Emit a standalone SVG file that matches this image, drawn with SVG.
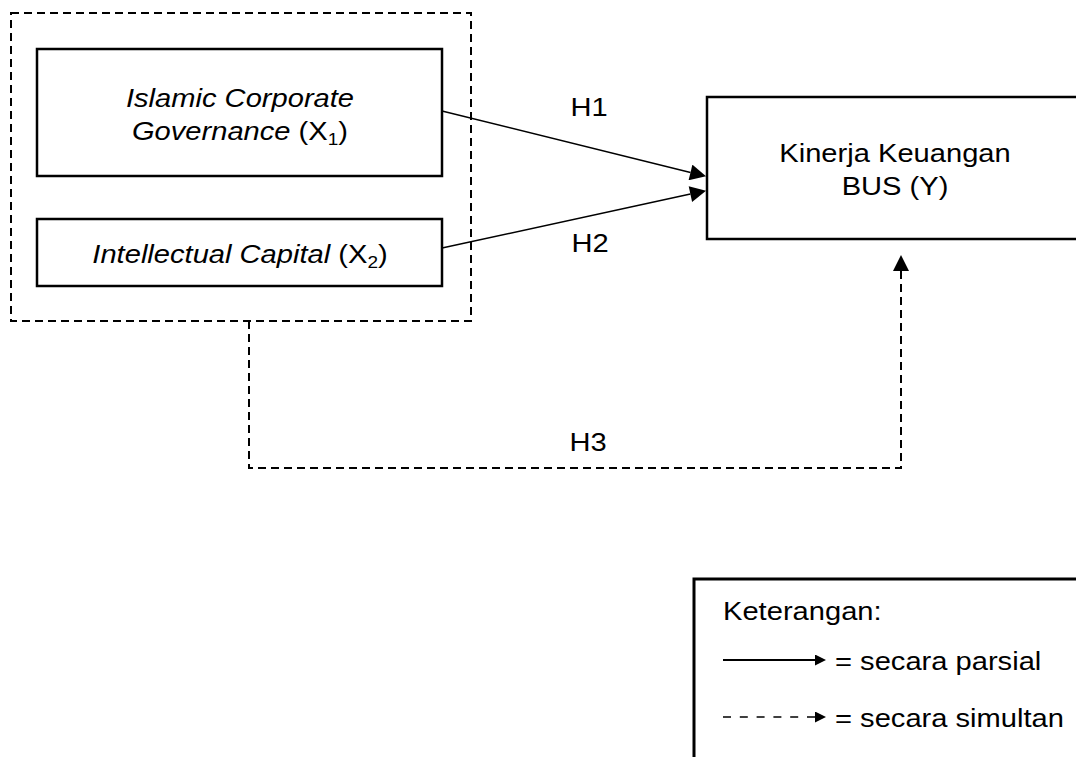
<svg xmlns="http://www.w3.org/2000/svg" width="1076" height="757" viewBox="0 0 1076 757">
<style>
  .t { font-family: "Liberation Sans", Arial, sans-serif; font-size: 26px; fill: #000; }
  .m { text-anchor: middle; }
  .i { font-style: italic; }
  .box { fill: #fff; stroke: #000; stroke-width: 2.5; }
  .dash { fill: none; stroke: #000; stroke-width: 2; stroke-dasharray: 8 5; }
  .solid { fill: none; stroke: #000; stroke-width: 1.5; }
</style>
<defs>
  <marker id="arr" viewBox="0 0 10 10" refX="0" refY="5" markerUnits="userSpaceOnUse" markerWidth="17" markerHeight="16" orient="auto">
    <path d="M0,0 L10,5 L0,10 z" fill="#000"/>
  </marker>
  <marker id="arrS" viewBox="0 0 10 10" refX="0" refY="5" markerUnits="userSpaceOnUse" markerWidth="12" markerHeight="11" orient="auto">
    <path d="M0,0 L10,5 L0,10 z" fill="#000"/>
  </marker>
</defs>
<rect x="0" y="0" width="1076" height="757" fill="#fff"/>

<g id="group-x">
  <rect x="11" y="13" width="460" height="308" class="dash"/>
</g>

<g id="node-x1">
  <rect x="37" y="49" width="405" height="127" class="box"/>
  <g transform="translate(240 107) scale(1.12 1)">
    <text class="t m i" x="0" y="0">Islamic Corporate</text>
  </g>
  <g transform="translate(240 140) scale(1.12 1)">
    <text class="t m" x="0" y="0"><tspan class="i">Governance</tspan> (X<tspan font-size="17" dy="5">1</tspan><tspan dy="-5">)</tspan></text>
  </g>
</g>

<g id="node-x2">
  <rect x="37" y="219" width="405" height="67" class="box"/>
  <g transform="translate(240 263) scale(1.12 1)">
    <text class="t m" x="0" y="0"><tspan class="i">Intellectual Capital</tspan> (X<tspan font-size="17" dy="5">2</tspan><tspan dy="-5">)</tspan></text>
  </g>
</g>

<g id="node-y">
  <rect x="707" y="97" width="400" height="142" class="box"/>
  <g transform="translate(895 162) scale(1.12 1)">
    <text class="t m" x="0" y="0">Kinerja Keuangan</text>
  </g>
  <g transform="translate(895 195) scale(1.12 1)">
    <text class="t m" x="0" y="0">BUS (Y)</text>
  </g>
</g>

<g id="connectors">
  <line x1="442" y1="111" x2="690.5" y2="172.4" class="solid" marker-end="url(#arr)"/>
  <line x1="442" y1="248" x2="690.4" y2="194.1" class="solid" marker-end="url(#arr)"/>
  <path d="M249,321 V468 H901 V271" class="dash" marker-end="url(#arr)"/>
  <g transform="translate(589 116) scale(1.12 1)"><text class="t m" x="0" y="0">H1</text></g>
  <g transform="translate(590 252) scale(1.12 1)"><text class="t m" x="0" y="0">H2</text></g>
  <g transform="translate(588 451) scale(1.12 1)"><text class="t m" x="0" y="0">H3</text></g>
</g>

<g id="legend">
  <rect x="694" y="579" width="420" height="220" fill="#fff" stroke="#000" stroke-width="3"/>
  <g transform="translate(723 620) scale(1.12 1)"><text class="t" x="0" y="0">Keterangan:</text></g>
  <line x1="723" y1="660" x2="815" y2="660" stroke="#000" stroke-width="2" marker-end="url(#arrS)"/>
  <g transform="translate(835 670) scale(1.12 1)"><text class="t" x="0" y="0">= secara parsial</text></g>
  <line x1="723" y1="717" x2="815" y2="717" stroke="#000" stroke-width="1.5" stroke-dasharray="8 8.8" marker-end="url(#arrS)"/>
  <g transform="translate(835 727) scale(1.12 1)"><text class="t" x="0" y="0">= secara simultan</text></g>
</g>
</svg>
